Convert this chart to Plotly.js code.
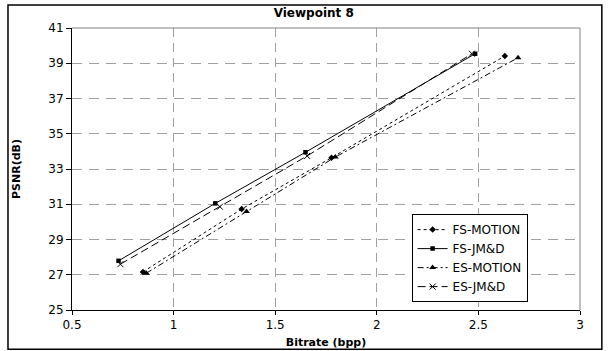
<!DOCTYPE html>
<html><head><meta charset="utf-8">
<script src="https://cdn.plot.ly/plotly-3.0.1.min.js"></script>
<style>html,body{margin:0;padding:0;background:#fff;}#chart{width:608px;height:351px;}</style>
</head><body><div id="chart"></div>
<script>
const seriesNames = ["FS-MOTION", "FS-JM&D", "ES-MOTION", "ES-JM&D"];
const fsMotionX = [0.849, 1.335, 1.777, 2.630];
const fsMotionY = [27.16, 30.73, 33.64, 39.41];
const fsJmdX = [0.729, 1.205, 1.649, 2.484];
const fsJmdY = [27.79, 31.05, 33.95, 39.54];
const esMotionX = [0.866, 1.359, 1.796, 2.695];
const esMotionY = [27.09, 30.59, 33.68, 39.31];
const esJmdX = [0.738, 1.228, 1.657, 2.468];
const esJmdY = [27.60, 30.86, 33.74, 39.54];
const xTicks = [0.5, 1, 1.5, 2, 2.5, 3];
const yTicks = [25, 27, 29, 31, 33, 35, 37, 39, 41];

const F = "DejaVu Sans, Arial, sans-serif";
const traces = [
  {x: fsMotionX, y: fsMotionY, name: seriesNames[0], mode: "lines+markers",
   line: {color: "#000", width: 1, dash: "dot"}, marker: {symbol: "diamond", size: 5, color: "#000"}},
  {x: fsJmdX, y: fsJmdY, name: seriesNames[1], mode: "lines+markers",
   line: {color: "#000", width: 1, dash: "solid"}, marker: {symbol: "square", size: 4.5, color: "#000"}},
  {x: esMotionX, y: esMotionY, name: seriesNames[2], mode: "lines+markers",
   line: {color: "#000", width: 1, dash: "6px,3px,2px,3px"}, marker: {symbol: "triangle-up", size: 6, color: "#000"}},
  {x: esJmdX, y: esJmdY, name: seriesNames[3], mode: "lines+markers",
   line: {color: "#000", width: 1, dash: "8px,4px"}, marker: {symbol: "x-thin", size: 6, color: "#000", line: {color: "#000", width: 1}}}
];

const layout = {
  width: 608, height: 351,
  margin: {l: 72, r: 28, t: 28, b: 41},
  paper_bgcolor: "#fff", plot_bgcolor: "#fff",
  font: {family: F, size: 12, color: "#000"},
  showlegend: true,
  title: {text: "<b>Viewpoint 8</b>", font: {family: F, size: 12, color: "#000"},
          xref: "container", x: 0.516, xanchor: "center", yref: "container", y: 0.963, yanchor: "middle"},
  xaxis: {
    range: [0.5, 3], tickvals: xTicks, ticktext: xTicks.map(String),
    showgrid: true, gridcolor: "#a0a0a0", griddash: "9px,6px", gridwidth: 1,
    showline: true, linecolor: "#000", linewidth: 1,
    ticks: "outside", ticklen: 4, tickcolor: "#000",
    zeroline: false, tickfont: {family: F, size: 12},
    title: {text: "<b>Bitrate (bpp)</b>", font: {family: F, size: 11}, standoff: 6}
  },
  yaxis: {
    range: [25, 41], tickvals: yTicks, ticktext: yTicks.map(String),
    showgrid: true, gridcolor: "#a0a0a0", griddash: "10px,7px", gridwidth: 1,
    showline: true, linecolor: "#000", linewidth: 1,
    ticks: "outside", ticklen: 5, tickcolor: "#000",
    zeroline: false, tickfont: {family: F, size: 12},
    title: {text: "<b>PSNR(dB)</b>", font: {family: F, size: 11}, standoff: 25}
  },
  legend: {
    x: 0.6685, y: 0.340, xanchor: "left", yanchor: "top",
    bgcolor: "#fff", bordercolor: "#000", borderwidth: 1,
    font: {family: F, size: 12}, tracegroupgap: 0, itemwidth: 30
  },
  shapes: [
    {type: "line", xref: "paper", yref: "paper", x0: 0, x1: 1, y0: 1, y1: 1, line: {color: "#808080", width: 1}},
    {type: "line", xref: "paper", yref: "paper", x0: 1, x1: 1, y0: 0, y1: 1, line: {color: "#808080", width: 1}},
    {type: "rect", xref: "paper", yref: "paper", x0: -0.126, x1: 1.043, y0: -0.139, y1: 1.0816, line: {color: "#000", width: 1.5}}
  ]
};
Plotly.newPlot("chart", traces, layout, {displayModeBar: false, staticPlot: true});
</script></body></html>
